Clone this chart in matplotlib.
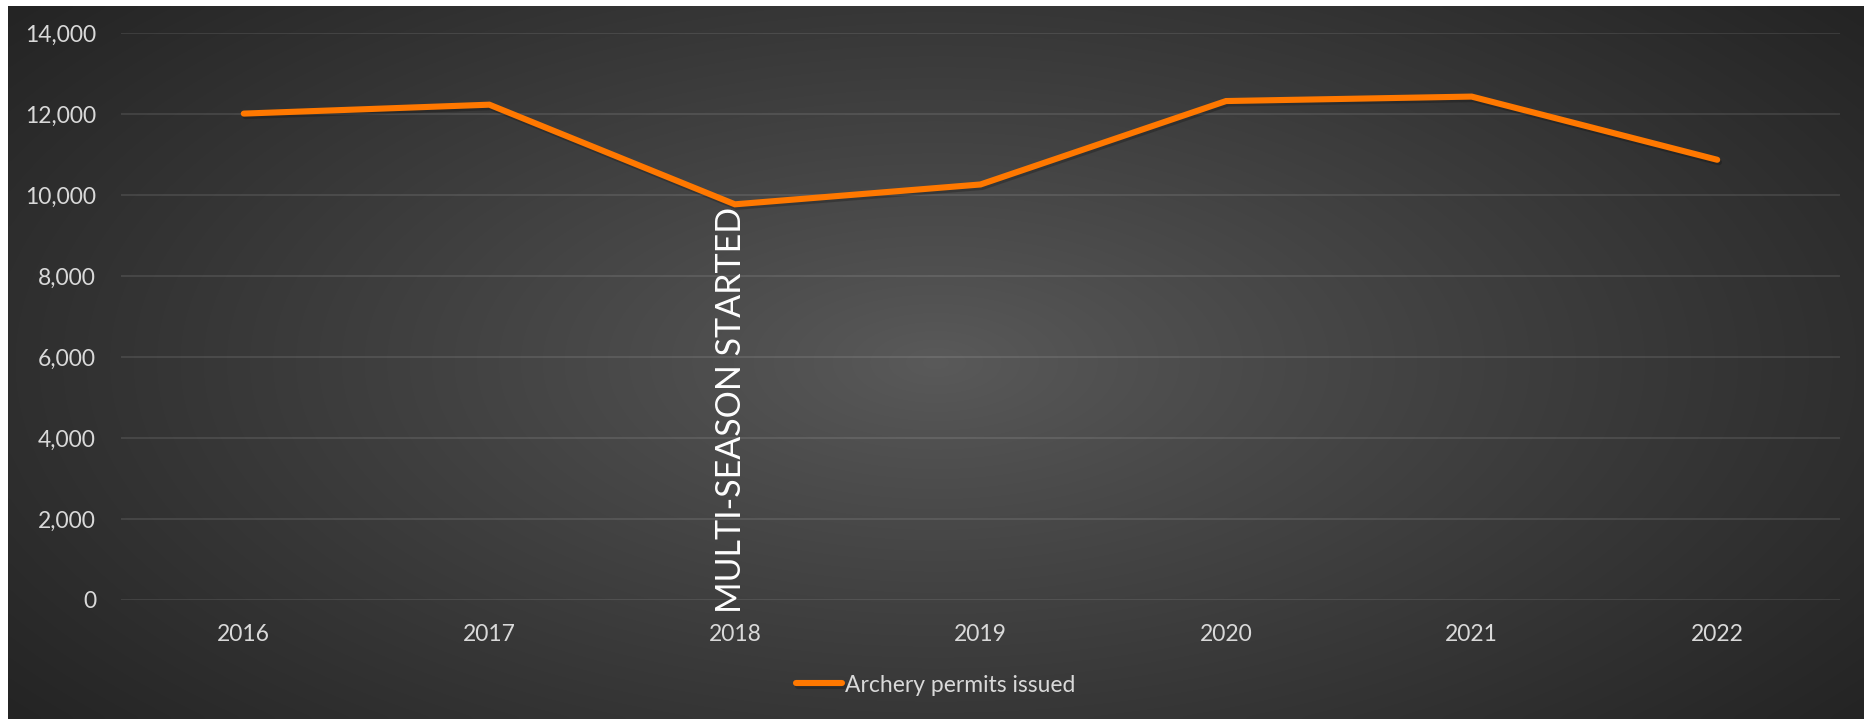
import numpy as np
import matplotlib.pyplot as plt
import matplotlib.patheffects as pe
from matplotlib.ticker import FuncFormatter
import matplotlib.transforms as mtransforms

# dane: liczba pozwoleń łuczniczych
years = ['2016', '2017', '2018', '2019', '2020', '2021', '2022']
permits = [12010, 12230, 9770, 10260, 12320, 12430, 10870]
series_label = 'Archery permits issued'
note_text = 'MULTI-SEASON STARTED'
note_year = '2018'

plt.rcParams['font.family'] = ['Lato', 'DejaVu Sans']

W, H = 1872, 719
fig = plt.figure(figsize=(W / 100, H / 100), dpi=100)
fig.patch.set_facecolor('white')

# tlo z gradientem radialnym (ciemny styl Excela)
bg = fig.add_axes([8 / W, 0, (1864 - 8) / W, (H - 6) / H], zorder=-1)
gx, gy = np.meshgrid(np.linspace(-1, 1, 400), np.linspace(-1, 1, 160))
r = np.sqrt((gx / 1.0) ** 2 + (gy / 1.25) ** 2) / np.sqrt(1 + 1 / 1.25 ** 2)
r = np.clip(r, 0, 1)
c_in, c_out = 0x5a / 255, 0x24 / 255
val = c_in - (c_in - c_out) * r ** 0.9
img = np.dstack([val, val, val])
bg.imshow(img, aspect='auto', extent=[0, 1, 0, 1], interpolation='bicubic')
bg.set_axis_off()

ax = fig.add_axes([121 / W, (H - 600) / H, (1840 - 121) / W, 567 / H])
ax.set_facecolor('none')

x = np.arange(len(years))
ax.plot(x, permits, color='#FF7800', lw=4.4, solid_capstyle='round',
        solid_joinstyle='miter', label=series_label, zorder=3,
        path_effects=[pe.SimpleLineShadow(offset=(1.2, -1.8), shadow_color='black', alpha=0.22),
                      pe.Normal()])

ax.set_xlim(-0.5, len(years) - 0.5)
ax.set_ylim(0, 14000)
ax.set_yticks(np.arange(0, 14001, 2000))
ax.yaxis.set_major_formatter(FuncFormatter(lambda v, p: f'{int(v):,}'))
ax.set_xticks(x)
ax.set_xticklabels(years)

ax.grid(axis='y', color='white', alpha=0.11, lw=1.3)
ax.set_axisbelow(True)
for s in ax.spines.values():
    s.set_visible(False)
ax.tick_params(length=0, colors='#d9d9d9', labelsize=16.5)
ax.tick_params(axis='y', pad=18)
ax.tick_params(axis='x', pad=17)

# adnotacja pionowa przy 2018
trans = mtransforms.blended_transform_factory(ax.transData, ax.transAxes)
ax.text(years.index(note_year) - 0.015, -0.023, note_text, rotation=90, transform=trans,
        ha='center', va='bottom', color='white', fontsize=24.5, zorder=4)

leg = fig.legend(loc='center', bbox_to_anchor=(936 / W, (H - 685) / H), frameon=False,
                 fontsize=16.5, handlelength=2.0, handletextpad=0.15)
for t in leg.get_texts():
    t.set_color('#d9d9d9')

plt.savefig('out.png', dpi=100)
